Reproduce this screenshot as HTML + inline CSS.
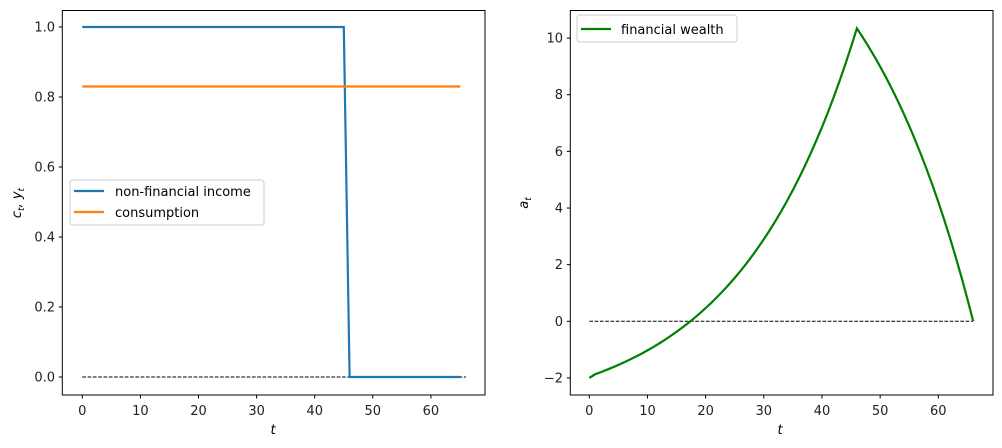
<!DOCTYPE html>
<html><head><meta charset="utf-8"><style>
body{margin:0;background:#fff}
svg{display:block;font-family:"DejaVu Sans","Liberation Sans",sans-serif}
</style></head><body>
<svg id="s" width="1002" height="448" xmlns="http://www.w3.org/2000/svg">
<rect width="1002" height="448" fill="#fff"/>
<g id="L"></g>
<!-- left series -->
<line x1="82.3" y1="377" x2="466" y2="377" stroke="#000" stroke-width="1" stroke-dasharray="3.7,1.6"/>
<polyline points="82.3,27 343.8,27 349.6,377 460.3,377" fill="none" stroke="#1f77b4" stroke-width="2.2"/>
<line x1="82.3" y1="86.5" x2="460.3" y2="86.5" stroke="#ff7f0e" stroke-width="2.2"/>
<rect x="62.3" y="10.5" width="422.7" height="384.5" fill="none" stroke="#000" stroke-width="1"/>
<!-- left legend -->
<rect x="70" y="180" width="194" height="45" rx="3" fill="#fff" fill-opacity="0.8" stroke="#ccc"/>
<line x1="74" y1="191" x2="104" y2="191" stroke="#1f77b4" stroke-width="2.2"/>
<line x1="74" y1="212" x2="104" y2="212" stroke="#ff7f0e" stroke-width="2.2"/>
<text x="115" y="196" font-size="13">non-financial income</text>
<text x="115" y="217" font-size="13">consumption</text>
<text transform="translate(21,203) rotate(-90)" font-size="13" font-style="italic" text-anchor="middle">c<tspan font-size="9" dy="3">t</tspan><tspan dy="-3">, y</tspan><tspan font-size="9" dy="3">t</tspan></text>
<text x="273" y="434" font-size="13" font-style="italic" text-anchor="middle">t</text>
<!-- right -->
<line x1="589.3" y1="321.3" x2="973.2" y2="321.3" stroke="#000" stroke-width="1" stroke-dasharray="3.7,1.6"/>
<path id="wealth" fill="none" stroke="#008000" stroke-width="2.2"/>
<rect x="570.3" y="10.5" width="422.7" height="384.5" fill="none" stroke="#000" stroke-width="1"/>
<rect x="577" y="15" width="160" height="27" rx="3" fill="#fff" fill-opacity="0.8" stroke="#ccc"/>
<line x1="581" y1="29" x2="611" y2="29" stroke="#008000" stroke-width="2.2"/>
<text x="621" y="34" font-size="13">financial wealth</text>
<text transform="translate(528,203) rotate(-90)" font-size="13" font-style="italic" text-anchor="middle">a<tspan font-size="9" dy="3">t</tspan></text>
<text x="780" y="434" font-size="13" font-style="italic" text-anchor="middle">t</text>
<g id="R"></g>
</svg>
<script>
var NS="http://www.w3.org/2000/svg";
function el(g,t,a,txt){var e=document.createElementNS(NS,t);for(var k in a)e.setAttribute(k,a[k]);if(txt!=null)e.textContent=txt;g.appendChild(e);}
var L=document.getElementById("L"),R=document.getElementById("R");
for(var i=0;i<=6;i++){var x=82.3+i*58.1;el(L,"line",{x1:x,y1:395,x2:x,y2:398.5,stroke:"#000"});el(L,"text",{x:x,y:415,"font-size":13,"text-anchor":"middle",fill:"#222"},String(i*10));
var x2=589.3+i*58.17;el(R,"line",{x1:x2,y1:395,x2:x2,y2:398.5,stroke:"#000"});el(R,"text",{x:x2,y:415,"font-size":13,"text-anchor":"middle",fill:"#222"},String(i*10));}
for(var j=0;j<=5;j++){var y=377-j*70;el(L,"line",{x1:58.8,y1:y,x2:62.3,y2:y,stroke:"#000"});el(L,"text",{x:55,y:y+4.5,"font-size":13,"text-anchor":"end",fill:"#222"},(j*0.2).toFixed(1));}
for(var v=-2;v<=10;v+=2){var y=321.3-v*28.32;el(R,"line",{x1:566.8,y1:y,x2:570.3,y2:y,stroke:"#000"});el(R,"text",{x:563,y:y+4.5,"font-size":13,"text-anchor":"end",fill:"#222"},v<0?"\u2212"+(-v):String(v));}
var a=[],Rr=1.05;a[66]=0;
for(var t=65;t>=1;t--){var yv=t<=45?1:0;a[t]=(a[t+1]+0.83-yv)/Rr;}
a[0]=-2;
var d="";for(var t=0;t<=66;t++){d+=(t?"L":"M")+(589.3+t*5.817).toFixed(2)+","+(321.3-a[t]*28.32).toFixed(2);}
document.getElementById("wealth").setAttribute("d",d);
</script>
</body></html>
